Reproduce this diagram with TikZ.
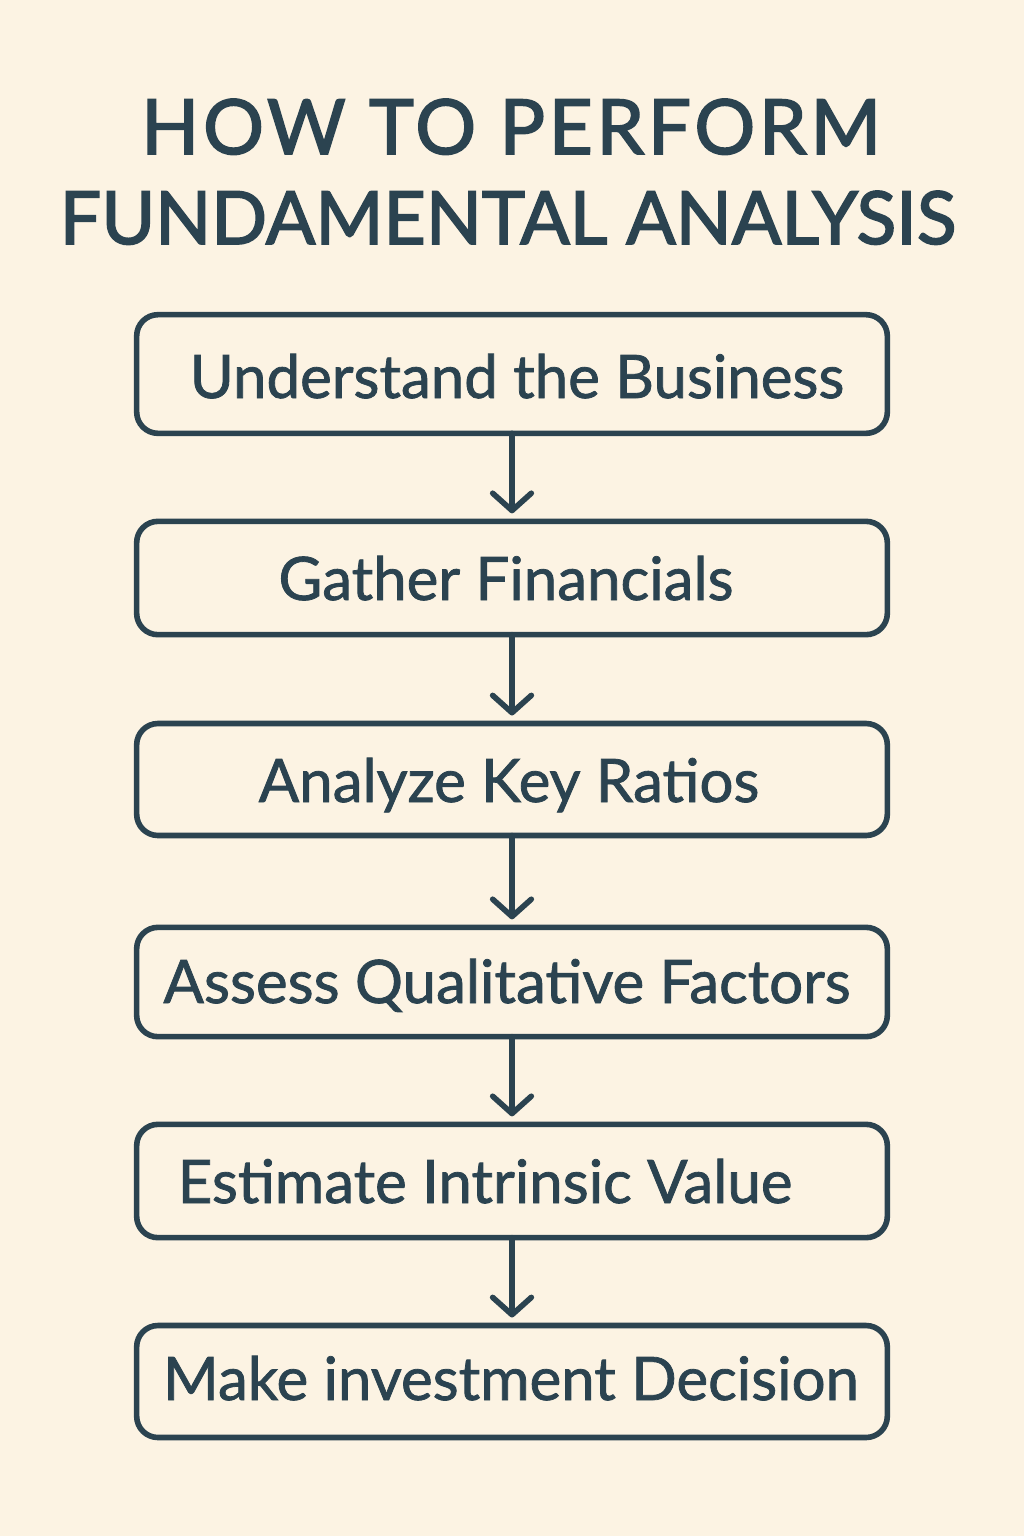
\documentclass[tikz,border=0pt]{standalone}
\usepackage{fontspec}
\setmainfont{Lato}
\newfontfamily\boxfont[FakeBold=1.3]{Lato}
\newfontfamily\titlefont[FakeBold=2.2]{Lato}
\newfontfamily\titlefontwide[FakeBold=2.2,LetterSpace=5]{Lato}
\usetikzlibrary{arrows.meta}
\definecolor{bg}{HTML}{FCF3E3}
\definecolor{ink}{HTML}{2B4350}
\begin{document}
\begin{tikzpicture}[x=0.75pt,y=-0.75pt,
  stepbox/.style={draw=ink, line width=4.2pt, rounded corners=16pt,
    minimum width=563pt, inner sep=0pt, outer sep=0pt},
  steptext/.style={text=ink, font=\boxfont\fontsize{45}{50}\selectfont, inner sep=0pt, anchor=base},
  titletext/.style={text=ink, font=\titlefont\fontsize{55}{62}\selectfont, inner sep=0pt, anchor=base},
  arr/.style={draw=ink, line width=4.2pt, line cap=round, line join=round,
    -{Straight Barb[length=13pt,width=29pt,line cap=round,line join=round]}, shorten >=6pt}]
\fill[bg] (0,0) rectangle (1024,1536);
\useasboundingbox (0,0) rectangle (1024,1536);

\node[titletext, font=\titlefontwide\fontsize{57}{62}\selectfont] (t1) at (511,154) {HOW TO PERFORM};
\node[titletext] (t2) at (508,244) {FUNDAMENTAL ANALYSIS};

\node[stepbox, minimum height=89pt] (b1) at (512,374) {};
\node[stepbox, minimum height=85pt] (b2) at (512,578) {};
\node[stepbox, minimum height=84pt] (b3) at (512,779.5) {};
\node[stepbox, minimum height=82pt] (b4) at (512,982) {};
\node[stepbox, minimum height=85pt] (b5) at (512,1181) {};
\node[stepbox, minimum height=84pt] (b6) at (512,1381.5) {};

\node[steptext] (l1) at (517,398) {Understand the Business};
\node[steptext] (l2) at (506,600) {Gather Financials};
\node[steptext] (l3) at (509,802) {Analyze Key Ratios};
\node[steptext] (l4) at (507,1003) {Assess Qualitative Factors};
\node[steptext] (l5) at (485,1203) {Estimate Intrinsic Value};
\node[steptext] (l6) at (511,1400) {Make investment Decision};

\draw[arr] (b1.south) -- (b2.north);
\draw[arr] (b2.south) -- (b3.north);
\draw[arr] (b3.south) -- (b4.north);
\draw[arr] (b4.south) -- (b5.north);
\draw[arr] (b5.south) -- (b6.north);
\end{tikzpicture}
\end{document}
